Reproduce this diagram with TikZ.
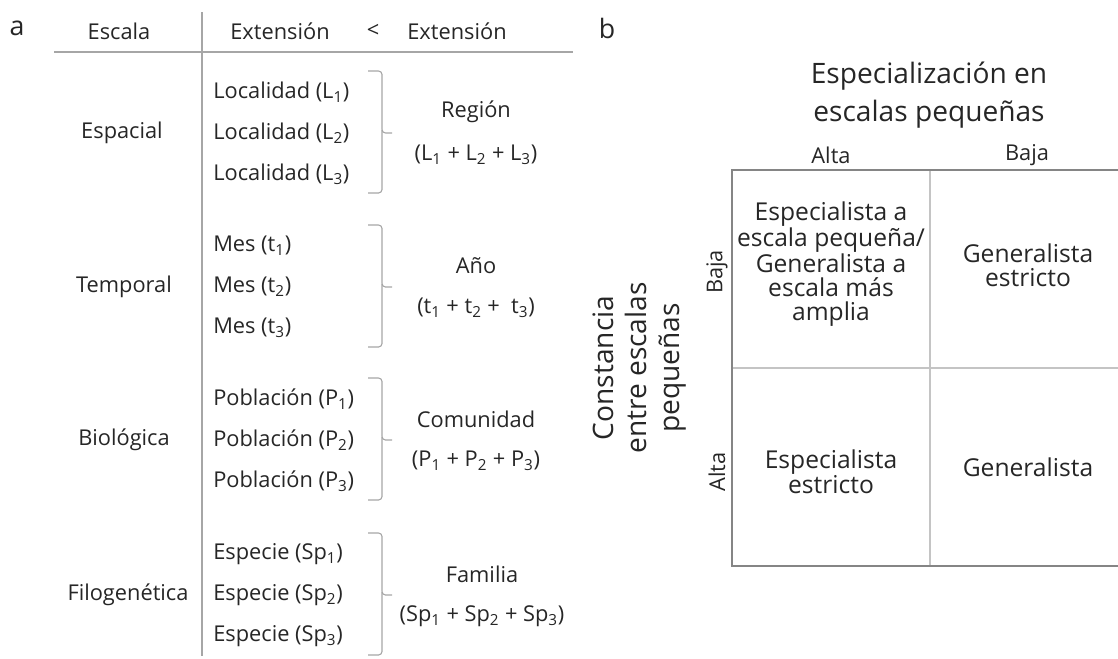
\documentclass[tikz,border=0pt]{standalone}
\usepackage{fontspec}
\setmainfont{Open Sans}
\definecolor{txt}{HTML}{262626}
\definecolor{rule}{HTML}{A6A6A6}
\definecolor{frame}{HTML}{858585}
\definecolor{grid}{HTML}{C4C4C4}
\tikzset{
  lbl/.style={inner sep=0pt, text=txt, font=\fontsize{15.5}{18}\selectfont},
  item/.style={lbl, anchor=west},
  tag/.style={inner sep=0pt, text=txt, font=\fontsize{19}{22}\selectfont},
  brace/.style={draw=rule, line width=0.8pt, rounded corners=2.5pt},
  title/.style={inner sep=0pt, text=txt, align=center, font=\fontsize{20}{26.5}\selectfont},
  cell/.style={inner sep=0pt, text=txt, align=center, font=\fontsize{17.5}{17}\selectfont},
  head/.style={inner sep=0pt, text=txt, font=\fontsize{15.5}{18}\selectfont}
}
\newcommand{\sub}[1]{\textsubscript{#1}}
\begin{document}
\begin{tikzpicture}[x=0.025cm,y=-0.025cm]
  \useasboundingbox (0,0) rectangle (1118,658);

  % panel a
  \node[tag] (a) at (17,28) {a};
  \node[lbl] (escala) at (119,31) {Escala};
  \node[lbl] (ext1) at (280,31) {Extensión};
  \node[lbl] (lt) at (373,31) {<};
  \node[lbl] (ext2) at (457,31) {Extensión};
  \coordinate (vtop) at (202,12);
  \coordinate (vbot) at (202,656);
  \coordinate (hl) at (54,52);
  \coordinate (hr) at (573,52);
  \draw[rule, line width=0.8pt] (vtop) -- (vbot);
  \draw[rule, line width=0.8pt] (hl) -- (hr);

  \node[lbl] (espacial) at (122,133) {Espacial};
  \node[item] (l1) at (213,92) {Localidad (L\sub{1})};
  \node[item] (l2) at (213,133) {Localidad (L\sub{2})};
  \node[item] (l3) at (213,174) {Localidad (L\sub{3})};
  \node[lbl] (region) at (476,112) {Región};
  \node[lbl] (lsum) at (476,155) {(L\sub{1} + L\sub{2} + L\sub{3})};
  \draw[brace] (368,71) -| (382,133) -- (392,133);
  \draw[brace] (382,130) |- (368,193);

  \node[lbl] (temporal) at (124,287) {Temporal};
  \node[item] (t1) at (213,246) {Mes (t\sub{1})};
  \node[item] (t2) at (213,287) {Mes (t\sub{2})};
  \node[item] (t3) at (213,328) {Mes (t\sub{3})};
  \node[lbl] (anio) at (476,266) {Año};
  \node[lbl] (tsum) at (476,308) {(t\sub{1} + t\sub{2} +\ \ t\sub{3})};
  \draw[brace] (368,225) -| (382,287) -- (392,287);
  \draw[brace] (382,284) |- (368,347);

  \node[lbl] (biologica) at (124,440) {Biológica};
  \node[item] (p1) at (213,399) {Población (P\sub{1})};
  \node[item] (p2) at (213,440) {Población (P\sub{2})};
  \node[item] (p3) at (213,481) {Población (P\sub{3})};
  \node[lbl] (comunidad) at (476,419) {Comunidad};
  \node[lbl] (psum) at (476,461) {(P\sub{1} + P\sub{2} + P\sub{3})};
  \draw[brace] (368,378) -| (382,440) -- (392,440);
  \draw[brace] (382,437) |- (368,500);

  \node[lbl] (filo) at (128,595) {Filogenética};
  \node[item] (sp1) at (213,554) {Especie (Sp\sub{1})};
  \node[item] (sp2) at (213,595) {Especie (Sp\sub{2})};
  \node[item] (sp3) at (213,636) {Especie (Sp\sub{3})};
  \node[lbl] (familia) at (482,574) {Familia};
  \node[lbl] (spsum) at (482,616) {(Sp\sub{1} + Sp\sub{2} + Sp\sub{3})};
  \draw[brace] (368,533) -| (382,595) -- (392,595);
  \draw[brace] (382,592) |- (368,655);

  % panel b
  \node[tag] (b) at (607,28) {b};
  \node[title] (espec) at (929,95) {Especialización en\\escalas pequeñas};
  \node[head] (halta) at (831,155) {Alta};
  \node[head] (hbaja) at (1027,155) {Baja};
  \node[title, font=\fontsize{20}{23.5}\selectfont, rotate=90] (const) at (640,368) {Constancia\\entre escalas\\pequeñas};
  \node[head, rotate=90] (vbaja) at (717,272) {Baja};
  \node[head, rotate=90] (valta) at (717,472) {Alta};

  \draw[grid, line width=0.9pt] (930,170) -- (930,566);
  \draw[grid, line width=0.9pt] (732,368) -- (1118,368);
  \draw[frame, line width=0.9pt] (1118,170) -- (732,170) -- (732,566) -- (1118,566);

  \node[cell] (ab) at (831,264) {Especialista a\\escala pequeña/\\Generalista a\\escala más\\amplia};
  \node[cell] (bb) at (1028,265) {Generalista\\estricto};
  \node[cell] (aa) at (831,472) {Especialista\\estricto};
  \node[cell] (ba) at (1028,467) {Generalista};
\end{tikzpicture}
\end{document}
